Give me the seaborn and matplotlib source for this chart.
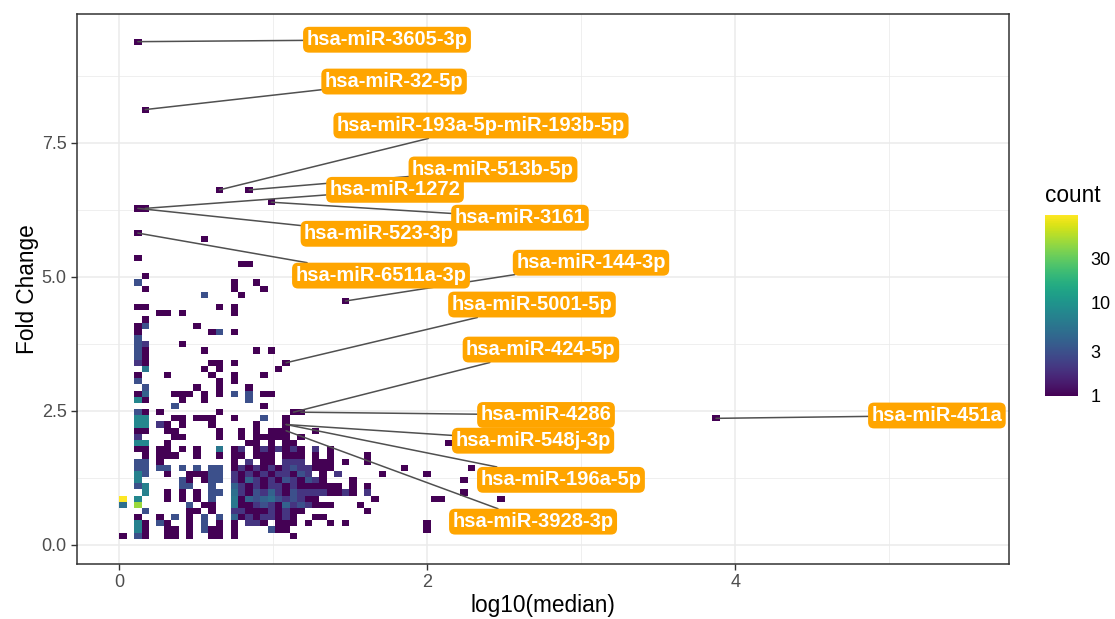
import matplotlib
matplotlib.use("Agg")
import matplotlib.pyplot as plt
from matplotlib.colors import LogNorm
import numpy as np
import pandas as pd
import seaborn as sns

# binned counts
# key = fold change bin (row), value = "log10(median) bin:count ..."
cells_by_row = {
    80: "2:1",
    69: "3:1",
    56: "13:1 17:1",
    54: "20:1",
    53: "2:1 3:1",
    49: "2:1",
    48: "11:1",
    45: "2:1",
    44: "16:1 17:1",
    42: "3:1",
    41: "2:3 15:1 18:1",
    40: "3:1 15:1 19:1",
    39: "11:3 16:1",
    38: "30:1",
    37: "2:1 3:1 13:1 15:1",
    36: "5:1 6:1 8:1 15:1",
    35: "3:1",
    34: "2:1 3:3 10:1",
    33: "2:1 12:1 13:3 15:1",
    32: "2:3",
    31: "2:3 3:2 8:1",
    30: "2:3 3:1 11:1 18:1 20:1",
    29: "2:3 3:1",
    28: "2:2 3:1 12:1 13:1 15:1 22:1",
    27: "3:6 11:1 13:1 21:1",
    26: "2:1 6:1 12:1 15:1 19:1",
    25: "2:3 13:1 15:1",
    24: "3:3 10:1 13:1 17:1",
    23: "2:1 3:4 7:1 8:1 9:1 11:1 13:1 15:3 17:3 19:1 20:1",
    22: "2:8 3:1 8:1 11:1 17:3",
    21: "7:3 19:1",
    20: "2:3 3:1 5:1 13:1 23:1 24:1",
    19: "2:8 3:8 7:1 8:1 10:1 11:1 12:1 15:1 19:3 22:1 80:1",
    18: "2:8 3:8 5:2 6:1 8:1 12:1 18:1 22:1",
    17: "2:1 3:1 6:1 7:1 13:1 16:1 18:1 20:1 21:1 22:1 26:1",
    16: "2:2 7:1 8:1 13:1 16:1 18:1 19:1 20:1 21:1 22:1 24:1",
    15: "2:8 3:8 6:1 17:1 18:1 20:1 22:1 23:1 44:1",
    14: "2:1 3:1 5:1 6:1 8:1 10:1 13:6 15:1 16:2 18:1 19:2 20:1 21:2 22:1 23:2 24:1 26:2 28:1",
    13: "3:1 5:1 6:1 7:1 10:1 13:1 15:1 16:1 18:1 19:1 20:1 22:1 23:1 24:1 26:1 28:1 33:1",
    12: "2:3 3:3 5:1 15:1 17:2 19:1 20:1 22:2 23:2 24:2 26:1 27:1 28:1 30:1 33:1",
    11: "2:3 3:3 5:3 6:3 8:3 10:3 12:3 13:3 15:1 16:2 17:1 18:2 19:1 20:2 21:1 22:2 23:3 24:2 25:2 26:1 27:1 28:1 38:1 47:1",
    10: "2:7 3:3 6:1 9:1 10:1 11:1 12:3 13:3 15:2 16:1 17:2 18:1 19:2 20:1 21:2 22:2 23:1 24:3 25:2 27:1 29:2 35:1 41:1",
    9: "2:7 8:3 9:1 11:1 12:3 13:3 15:2 16:1 17:4 18:2 19:1 20:2 21:1 22:3 23:2 24:1 25:3 26:2 27:1 31:1 46:1",
    8: "2:3 3:7 8:3 9:3 12:3 15:4 16:2 17:1 18:2 19:1 20:2 21:2 22:1 23:2 24:1 25:1 26:1 27:1 28:1 29:1 31:1 33:1",
    7: "3:7 6:1 8:1 10:1 12:3 13:3 15:5 16:2 17:1 18:3 19:2 20:4 21:2 22:1 23:3 24:2 25:2 26:2 27:2 28:1 29:1 30:2 31:1 33:2 46:1",
    6: "0:88 2:8 6:1 8:1 10:1 12:3 15:6 16:1 17:4 18:3 19:4 20:5 21:3 22:2 23:3 24:2 25:1 26:1 34:1 42:1 43:1 51:1",
    5: "0:5 2:45 9:3 11:1 12:1 15:6 16:1 17:1 18:2 19:3 20:2 21:1 22:4 23:2 24:3 25:2 26:1 27:1 28:1 32:1",
    4: "3:3 9:1 10:1 12:1 15:2 16:2 17:1 18:1 19:1 20:2 21:1 22:2 23:1 24:1 33:1",
    3: "2:1 5:1 7:3 9:1 11:3 13:3 15:4 16:1 17:2 18:1 19:2 20:2 21:1 22:2 23:1 26:1 27:1",
    2: "2:7 3:1 5:3 6:1 9:1 11:3 13:1 15:1 17:2 18:2 19:1 21:1 22:1 23:1 25:1 28:1 30:1 41:1",
    1: "2:7 3:1 6:1 7:1 9:1 11:3 12:1 13:1 15:1 20:3 21:1 22:1 41:1",
    0: "0:1 2:3 3:1 6:1 7:1 9:1 12:1 13:1 15:1 23:1",
}

# bin grid (81 x 81 bins)
x_start, x_width, n_x = 0.002, 0.0481, 81
y_start, y_width, n_y = 0.110, 0.1152, 81

gene_names = ["hsa-miR-3605-3p", "hsa-miR-32-5p", "hsa-miR-193a-5p-miR-193b-5p",
              "hsa-miR-513b-5p", "hsa-miR-1272", "hsa-miR-3161", "hsa-miR-523-3p",
              "hsa-miR-144-3p", "hsa-miR-6511a-3p", "hsa-miR-5001-5p", "hsa-miR-424-5p",
              "hsa-miR-4286", "hsa-miR-451a", "hsa-miR-548j-3p", "hsa-miR-196a-5p",
              "hsa-miR-3928-3p"]
gene_log10_median = [0.122, 0.170, 0.651, 0.844, 0.170, 0.988, 0.122, 1.469,
                     0.122, 1.084, 1.132, 1.180, 3.874, 1.084, 1.084, 1.084]
gene_fold_change = [9.384, 8.117, 6.619, 6.619, 6.274, 6.389, 6.274, 4.546,
                    5.813, 3.394, 2.472, 2.472, 2.357, 2.242, 2.242, 2.126]

# where the repelled labels ended up
label_x = [1.739, 1.785, 2.349, 2.427, 1.791, 2.602, 1.687, 3.063,
           1.700, 2.680, 2.738, 2.771, 5.308, 2.687, 2.868, 2.687]
label_y = [9.42, 8.64, 7.82, 7.00, 6.62, 6.10, 5.80, 5.26,
           5.02, 4.48, 3.64, 2.42, 2.41, 1.94, 1.21, 0.43]

count_ticks = [1, 3, 10, 30]

# long table of cell centres
rows = []
for r, spec in cells_by_row.items():
    for item in spec.split():
        k, c = item.split(":")
        rows.append({"x": x_start + (int(k) + 0.5) * x_width,
                     "y": y_start + (r + 0.5) * y_width,
                     "count": int(c)})
df = pd.DataFrame(rows)
x_edges = x_start + np.arange(n_x + 1) * x_width
y_edges = y_start + np.arange(n_y + 1) * y_width

sns.set_theme(style="white")
plt.rcParams["font.family"] = ["Liberation Sans", "DejaVu Sans"]

fig = plt.figure(figsize=(11.15, 6.19), dpi=100)
ax = fig.add_axes([77 / 1115, 55 / 619, 932 / 1115, 550 / 619])
cax = fig.add_axes([1045 / 1115, 223 / 619, 33 / 1115, 181 / 619])

sns.histplot(data=df, x="x", y="y", weights="count", bins=(x_edges, y_edges),
             cmap="viridis", norm=LogNorm(vmin=1, vmax=df["count"].max()),
             vmin=None, vmax=None, cbar=True, cbar_ax=cax, ax=ax)

ax.set_xlim(-0.273, 5.776)
ax.set_ylim(-0.36, 9.9)
ax.set_xticks([0, 2, 4])
ax.set_xticklabels(["0", "2", "4"])
ax.set_yticks([0, 2.5, 5, 7.5])
ax.set_yticklabels(["0.0", "2.5", "5.0", "7.5"])
ax.set_xticks([1, 3, 5], minor=True)
ax.set_yticks([1.25, 3.75, 6.25, 8.75], minor=True)
ax.set_axisbelow(True)
ax.grid(True, which="major", color="#EBEBEB", lw=1.1)
ax.grid(True, which="minor", color="#EBEBEB", lw=0.55)
ax.tick_params(which="major", direction="out", length=4.5, width=1, color="#333333",
               labelsize=13, labelcolor="#4D4D4D", pad=3, bottom=True, left=True)
ax.tick_params(which="minor", length=0)
for sp in ax.spines.values():
    sp.set_color("#333333")
    sp.set_linewidth(1.1)

ax.set_xlabel("log10(median)", fontsize=16.3, color="black")
ax.set_ylabel("Fold Change", fontsize=16.3, color="black")
ax.xaxis.set_label_coords(0.5, -0.075)
ax.xaxis.label.set_va("center")
ax.yaxis.set_label_coords(-0.0526, 0.5)
ax.yaxis.label.set_va("center")

for name, gx, gy, lx, ly in zip(gene_names, gene_log10_median, gene_fold_change,
                                label_x, label_y):
    ax.annotate(name, xy=(gx, gy), xytext=(lx, ly), ha="center", va="center",
                fontsize=14.5, fontweight="bold", color="white",
                bbox=dict(boxstyle="round,pad=0.17,rounding_size=0.3",
                          fc="#FFA500", ec="none"),
                arrowprops=dict(arrowstyle="-", color="#505050", lw=1.1,
                                shrinkA=0, shrinkB=0))

cb = ax.collections[0].colorbar
cb.outline.set_visible(False)
cb.set_ticks(count_ticks)
cb.set_ticklabels([str(t) for t in count_ticks])
cax.minorticks_off()
cax.tick_params(axis="y", which="major", direction="in", length=7, width=1,
                color="white", left=True, right=True, labelleft=False,
                labelright=True, labelsize=13, labelcolor="black", pad=9)
fig.text(1045 / 1115, 1 - 195 / 619, "count", ha="left", va="center",
         fontsize=16.3, color="black")

fig.savefig("out.png", dpi=100)
